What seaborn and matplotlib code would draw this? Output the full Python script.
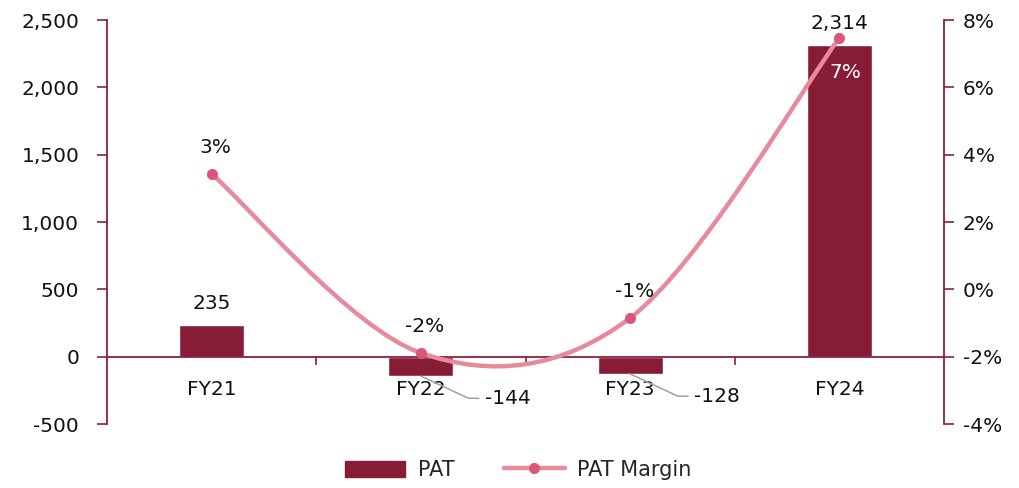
import numpy as np
import seaborn as sns
import matplotlib
matplotlib.use("Agg")
import matplotlib.pyplot as plt
from matplotlib.path import Path
from matplotlib.patches import PathPatch, Patch
from matplotlib.lines import Line2D
from matplotlib.ticker import FuncFormatter, FixedLocator


# ==========================================================
# DATA
# ==========================================================

years = ["FY21", "FY22", "FY23", "FY24"]
pat = [235, -144, -128, 2314]
pat_labels = ["235", "-144", "-128", "2,314"]
pat_margin = [3.43, -1.89, -0.85, 7.47]
margin_labels = ["3%", "-2%", "-1%", "7%"]

BAR_COLOR = "#861C36"
LINE_COLOR = "#E78A9C"
MARK_COLOR = "#D9587A"
AXIS_COLOR = "#8A2040"
TXT = "#111111"


def smooth_path(xs, ys):
    """Excel-like smoothed line: Catmull-Rom as cubic Bezier segments."""
    pts = np.column_stack([xs, ys]).astype(float)
    n = len(pts)
    verts = [pts[0]]
    codes = [Path.MOVETO]
    for i in range(n - 1):
        p0 = pts[i - 1] if i > 0 else pts[i]
        p1 = pts[i]
        p2 = pts[i + 1]
        p3 = pts[i + 2] if i + 2 < n else pts[i + 1]
        c1 = p1 + (p2 - p0) / 6
        c2 = p2 - (p3 - p1) / 6
        verts += [c1, c2, p2]
        codes += [Path.CURVE4] * 3
    return Path(verts, codes)


# ==========================================================
# PLOT
# ==========================================================

sns.set_style("white")
plt.rcParams["font.family"] = ["DejaVu Sans"]

fig = plt.figure(figsize=(10.2, 4.88), dpi=100)
ax = fig.add_axes([0.1049, 0.1311, 0.8206, 0.8279])

sns.barplot(x=years, y=pat, ax=ax, color=BAR_COLOR, saturation=1, width=0.31)
ax.set_xlim(-0.5, 3.5)
ax.set_ylim(-500, 2500)
ax.set_yticks(range(-500, 2501, 500))
ax.yaxis.set_major_formatter(FuncFormatter(lambda v, p: f"{v:,.0f}"))

ax.spines["top"].set_visible(False)
ax.spines["right"].set_visible(False)
ax.spines["bottom"].set_position(("data", 0))
for side in ["bottom", "left"]:
    ax.spines[side].set_color(AXIS_COLOR)
    ax.spines[side].set_linewidth(1.3)

ax.tick_params(axis="y", direction="out", length=7, width=1.2, color=AXIS_COLOR,
               labelsize=14.5, labelcolor=TXT, pad=13, left=True)
ax.tick_params(axis="x", which="major", length=0, labelsize=14.5,
               labelcolor=TXT, pad=17)
ax.xaxis.set_minor_locator(FixedLocator([0.5, 1.5, 2.5]))
ax.tick_params(axis="x", which="minor", direction="out", length=6, width=1.2,
               color=AXIS_COLOR, bottom=True)
ax.set_xlabel("")
ax.set_ylabel("")

# bar value labels
for i, (v, lab) in enumerate(zip(pat, pat_labels)):
    if v >= 0:
        ax.annotate(lab, (i, v), xytext=(0, 9), textcoords="offset points",
                    ha="center", va="bottom", fontsize=14.5, color=TXT,
                    annotation_clip=False)
    else:
        ax.annotate(lab, (i, v), xytext=(46, -16), textcoords="offset points",
                    ha="left", va="center", fontsize=14.5, color=TXT,
                    arrowprops=dict(arrowstyle="-", color="#A0A0A0", lw=1.1,
                                    shrinkA=2, shrinkB=0,
                                    connectionstyle="angle,angleA=0,angleB=-25,rad=0"))

# PAT margin on secondary axis
ax2 = ax.twinx()
ax2.set_ylim(-4, 8)
ax2.set_yticks(range(-4, 9, 2))
ax2.yaxis.set_major_formatter(FuncFormatter(lambda v, p: f"{v:.0f}%"))
for side in ["top", "bottom", "left"]:
    ax2.spines[side].set_visible(False)
ax2.spines["right"].set_color(AXIS_COLOR)
ax2.spines["right"].set_linewidth(1.3)
ax2.tick_params(axis="y", direction="out", length=7, width=1.2, color=AXIS_COLOR,
                labelsize=14.5, labelcolor=TXT, pad=6.5)

xpos = np.arange(len(years))
ax2.add_patch(PathPatch(smooth_path(xpos, pat_margin), fill=False,
                        edgecolor=LINE_COLOR, lw=3.2, capstyle="round", zorder=3))
sns.scatterplot(x=xpos, y=pat_margin, ax=ax2, color=MARK_COLOR, s=55,
                edgecolor=MARK_COLOR, zorder=4, legend=False)

for i, (v, lab) in enumerate(zip(pat_margin, margin_labels)):
    if i == len(years) - 1:
        ax2.annotate(lab, (i, v), xytext=(4, -25), textcoords="offset points",
                     ha="center", va="center", fontsize=14.5, color="white", zorder=5)
    else:
        ax2.annotate(lab, (i, v), xytext=(3, 19), textcoords="offset points",
                     ha="center", va="center", fontsize=14.5, color=TXT, zorder=5)

handles = [
    Patch(facecolor=BAR_COLOR, edgecolor=BAR_COLOR, label="PAT"),
    Line2D([0], [0], color=LINE_COLOR, lw=3.2, marker="o", markersize=7,
           markerfacecolor=MARK_COLOR, markeredgecolor=MARK_COLOR,
           solid_capstyle="round", label="PAT Margin"),
]
fig.legend(handles=handles, loc="center", bbox_to_anchor=(0.508, 0.037), ncol=2,
           frameon=False, fontsize=15, handlelength=2.9, handleheight=0.8,
           columnspacing=2.4, handletextpad=0.6)

fig.savefig("out.png", dpi=100)
